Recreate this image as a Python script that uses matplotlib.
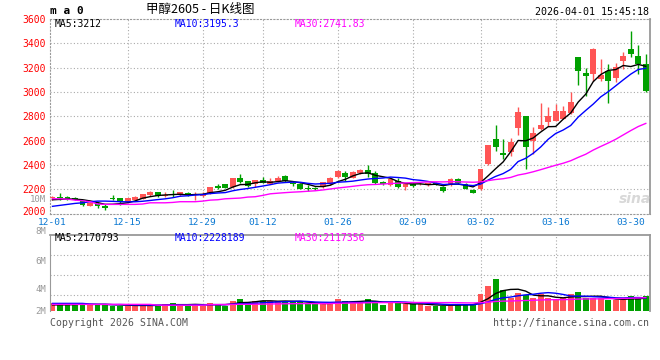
import matplotlib
matplotlib.use('Agg')
import matplotlib.pyplot as plt
import matplotlib.transforms as mtransforms
import numpy as np
import pandas as pd

# trading day index of the labelled dates
date_pos = [0, 10, 20, 28, 38, 48, 57, 67, 77]
date_labels = ['12-01', '12-15', '12-29', '01-12', '01-26', '02-09', '03-02', '03-16', '03-30']

# daily OHLC, 2025-12-01 .. 2026-04-01
open_ = [2124, 2135, 2132, 2127, 2102, 2064, 2080, 2064, 2129, 2127,
         2094, 2113, 2119, 2154, 2173, 2143, 2157, 2149, 2168, 2149,
         2143, 2168, 2225, 2239, 2214, 2296, 2266, 2239, 2274, 2244,
         2266, 2307, 2255, 2241, 2211, 2211, 2214, 2241, 2299, 2334,
         2293, 2334, 2356, 2331, 2260, 2236, 2268, 2217, 2241, 2239,
         2233, 2252, 2222, 2233, 2282, 2244, 2195, 2200, 2405, 2609,
         2501, 2503, 2702, 2798, 2596, 2699, 2751, 2765, 2781, 2825,
         3288, 3152, 3147, 3108, 3174, 3117, 3256, 3354, 3299, 3229]
high = [2146, 2168, 2143, 2135, 2113, 2092, 2092, 2075, 2151, 2127,
        2127, 2141, 2164, 2187, 2178, 2173, 2192, 2178, 2178, 2176,
        2173, 2222, 2239, 2244, 2296, 2323, 2271, 2279, 2301, 2296,
        2306, 2315, 2271, 2249, 2233, 2222, 2263, 2304, 2356, 2348,
        2348, 2364, 2397, 2348, 2271, 2293, 2288, 2255, 2247, 2247,
        2252, 2258, 2228, 2296, 2290, 2249, 2198, 2366, 2563, 2724,
        2615, 2620, 2879, 2800, 2710, 2906, 2879, 2904, 2888, 3002,
        3288, 3201, 3364, 3274, 3229, 3242, 3329, 3501, 3384, 3310]
low = [2113, 2115, 2113, 2108, 2064, 2059, 2047, 2031, 2113, 2067,
       2092, 2108, 2117, 2146, 2138, 2135, 2133, 2143, 2146, 2113,
       2138, 2162, 2200, 2206, 2209, 2247, 2214, 2214, 2247, 2241,
       2260, 2260, 2228, 2198, 2184, 2195, 2209, 2236, 2293, 2266,
       2288, 2323, 2301, 2241, 2233, 2228, 2211, 2195, 2222, 2233,
       2228, 2236, 2179, 2228, 2244, 2198, 2165, 2195, 2400, 2511,
       2446, 2470, 2642, 2364, 2492, 2691, 2716, 2757, 2775, 2820,
       3057, 2969, 3086, 3086, 2906, 3078, 3188, 3288, 3147, 2996]
close = [2137, 2128, 2119, 2113, 2070, 2088, 2059, 2047, 2116, 2094,
         2127, 2133, 2160, 2178, 2141, 2151, 2149, 2173, 2151, 2157,
         2160, 2217, 2209, 2211, 2290, 2260, 2227, 2274, 2255, 2266,
         2290, 2266, 2239, 2203, 2203, 2203, 2258, 2296, 2350, 2301,
         2342, 2358, 2323, 2247, 2241, 2282, 2222, 2244, 2227, 2244,
         2249, 2239, 2187, 2282, 2252, 2203, 2170, 2364, 2560, 2544,
         2481, 2585, 2833, 2546, 2661, 2724, 2806, 2841, 2847, 2915,
         3174, 3130, 3356, 3141, 3086, 3207, 3297, 3313, 3229, 3010]

# volume, millions
volume = [1.32, 1.09, 1.09, 1.09, 1.09, 1.09, 1.09, 1.09, 0.86, 0.86,
          0.86, 0.86, 1.09, 0.86, 0.86, 1.09, 1.32, 1.09, 0.86, 1.09,
          0.86, 1.32, 1.09, 0.86, 1.67, 2.01, 1.49, 1.67, 1.67, 1.67,
          1.67, 1.67, 1.49, 1.49, 1.09, 1.09, 1.09, 1.49, 2.01, 1.67,
          1.49, 1.32, 2.01, 1.67, 0.98, 1.32, 1.32, 1.09, 1.09, 1.09,
          0.86, 0.86, 0.86, 1.09, 1.09, 1.09, 1.09, 2.87, 4.25, 5.52,
          3.56, 2.13, 3.05, 2.64, 2.13, 2.87, 2.13, 1.84, 2.13, 2.87,
          3.22, 2.13, 2.13, 2.13, 1.84, 1.84, 1.84, 2.53, 2.13, 2.53]

# moving averages before enough history is on the chart
ma5_head = [2113, 2116, 2120, 2118]
ma10_head = [2059, 2067, 2075, 2083, 2088, 2097, 2102, 2102, 2100]
ma30_head = [2121, 2121, 2118, 2110, 2105, 2097, 2078, 2075, 2075, 2075,
             2075, 2075, 2078, 2088, 2088, 2088, 2091, 2097, 2097, 2097,
             2102, 2110, 2113, 2121, 2124, 2127, 2135, 2138, 2149]
vma5_head = [1.0, 1.0, 1.02, 1.05]
vma10_head = [1.26, 1.26, 1.26, 1.26, 1.26, 1.15, 1.1, 1.1, 1.05]
vma30_head = [1.09] * 14 + [0.95] * 7 + [1.05, 1.05, 1.07, 1.09, 1.1, 1.1, 1.12, 1.13]

RED = '#ff5555'
GREEN = '#00a000'
GRID = '#aaaaaa'
BLUE_TXT = '#0a78d2'
DOT = (0, (1, 2))

plt.rcParams['font.family'] = ['DejaVu Sans Mono']

W, H = 660, 360


def fx(x):
    return x / W


def fy(y):
    return 1 - y / H


def moving_avg(values, n, head):
    ma = pd.Series(values, dtype=float).rolling(n).mean().to_numpy()
    ma[:len(head)] = head
    return ma


o = np.array(open_, dtype=float)
c = np.array(close, dtype=float)
x = np.arange(len(c))
colors = np.where(c >= o, RED, GREEN)

fig = plt.figure(figsize=(6.6, 3.6), dpi=100)
ax = fig.add_axes([fx(50), fy(213.5), fx(600), (213.5 - 19) / H])
axv = fig.add_axes([fx(50), fy(310.7), fx(600), (310.7 - 235) / H])

# price panel
for p in range(2200, 3600, 200):
    ax.axhline(p, color=GRID, ls=DOT, lw=0.8, zorder=1)
for d in date_pos[1:-1]:
    ax.axvline(d, color=GRID, ls=DOT, lw=0.8, zorder=1)
    axv.axvline(d, color=GRID, ls=DOT, lw=0.8, zorder=1)

ax.vlines(x, low, high, colors=colors, lw=1, zorder=2)
body = np.maximum(np.abs(c - o), 6)
ax.bar(x, body, bottom=np.minimum(o, c), width=0.78, color=colors, lw=0, zorder=3)

ax.plot(x, moving_avg(c, 5, ma5_head), color='black', lw=1, zorder=4)
ax.plot(x, moving_avg(c, 10, ma10_head), color='#0000ff', lw=1, zorder=4)
ax.plot(x, moving_avg(c, 30, ma30_head), color='#ff00ff', lw=1, zorder=4)

ax.set_xlim(-0.33, 79.56)
ax.set_ylim(2000, 3600)
ax.set_yticks(range(2000, 3601, 200))
ax.tick_params(axis='y', length=0, pad=3, labelcolor='#ff0000', labelsize=7)
ax.set_xticks(date_pos, date_labels)
ax.tick_params(axis='x', length=0, pad=3, labelcolor=BLUE_TXT, labelsize=6.8)
# the bottom price label sits a little higher, like on the site
lift = mtransforms.ScaledTranslation(0, 2 / 72, fig.dpi_scale_trans)
lbl0 = ax.get_yticklabels()[0]
lbl0.set_transform(lbl0.get_transform() + lift)
for s in ['left', 'top', 'bottom']:
    ax.spines[s].set_color('#999999')
    ax.spines[s].set_linestyle(DOT)
ax.spines['right'].set_color('#999999')
ax.spines['right'].set_linewidth(1.3)

# volume panel
vmax = (310.7 - 235) / 5.8
for y in (255, 275, 295):
    axv.axhline((310.7 - y) / 5.8, color=GRID, ls=DOT, lw=0.8, zorder=1)
axv.bar(x, volume, width=0.78, color=colors, lw=0, zorder=2)
axv.plot(x, moving_avg(volume, 5, vma5_head), color='black', lw=1, zorder=3)
axv.plot(x, moving_avg(volume, 10, vma10_head), color='#0000ff', lw=1, zorder=3)
axv.plot(x, moving_avg(volume, 30, vma30_head), color='#ff00ff', lw=1, zorder=3)
axv.set_xlim(-0.33, 79.56)
axv.set_ylim(0, vmax)
axv.set_xticks([])
axv.set_yticks([])
for s in ['left', 'top', 'right']:
    axv.spines[s].set_color('#999999')
axv.spines['right'].set_linewidth(1.3)
axv.spines['top'].set_linewidth(1.3)
axv.spines['bottom'].set_visible(False)

# texts
fig.text(fx(50), fy(11), 'm a 0', fontsize=8, fontweight='bold', va='center')
fig.text(fx(200), fy(10), '甲醇2605 - 日K线图', fontsize=9, ha='center', va='center',
         family=['Noto Sans CJK SC', 'DejaVu Sans'])
fig.text(fx(649), fy(12), '2026-04-01 15:45:18', fontsize=7.2, ha='right', va='center')

fig.text(fx(55), fy(23.7), 'MA5:3212', fontsize=7, color='black', va='center')
fig.text(fx(175), fy(23.7), 'MA10:3195.3', fontsize=7, color='#0000ff', va='center')
fig.text(fx(295), fy(23.7), 'MA30:2741.83', fontsize=7, color='#ff00ff', va='center')

fig.text(fx(55), fy(238.3), 'MA5:2170793', fontsize=7, color='black', va='center')
fig.text(fx(175), fy(238.3), 'MA10:2228189', fontsize=7, color='#0000ff', va='center')
fig.text(fx(295), fy(238.3), 'MA30:2117356', fontsize=7, color='#ff00ff', va='center')

fig.text(fx(46), fy(199), '10M', fontsize=6.5, color='#999999', ha='right', va='center')
for lab, yy in [('8M', 232), ('6M', 261), ('4M', 290), ('2M', 311)]:
    fig.text(fx(46), fy(yy), lab, fontsize=6.5, color='#999999', ha='right', va='center')

fig.text(fx(50), fy(323), 'Copyright 2026 SINA.COM', fontsize=7.1, color='#555555', va='center')
fig.text(fx(649), fy(323.5), 'http://finance.sina.com.cn', fontsize=7.1, color='#555555',
         ha='right', va='center')
fig.text(fx(635), fy(199), 'sina', fontsize=10, color='#d8d8d8', ha='center', va='center',
         fontweight='bold', style='italic', family=['DejaVu Sans'])

fig.savefig('out.png', dpi=100)
